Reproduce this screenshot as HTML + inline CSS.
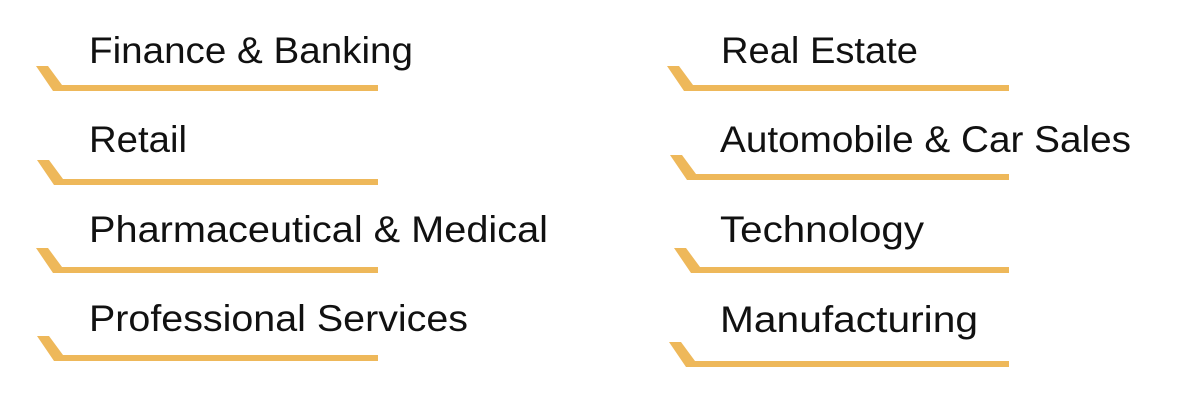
<!DOCTYPE html>
<html><head><meta charset="utf-8"><style>html,body{margin:0;padding:0;background:#fff;width:1200px;height:400px;overflow:hidden}</style></head>
<body>
<svg width="1200" height="400" viewBox="0 0 1200 400" xmlns="http://www.w3.org/2000/svg">
<g fill="#EEB85A">
<polygon points="36,66 48,66 62,85 378,85 378,91 53,91"/>
<polygon points="37,160 49,160 63,179 378,179 378,185 54,185"/>
<polygon points="36,248 48,248 62,267 378,267 378,273 53,273"/>
<polygon points="37,336 49,336 63,355 378,355 378,361 54,361"/>
<polygon points="667,66 679,66 693,85 1009,85 1009,91 684,91"/>
<polygon points="670,155 682,155 696,174 1009,174 1009,180 687,180"/>
<polygon points="674,248 686,248 700,267 1009,267 1009,273 691,273"/>
<polygon points="669,342 681,342 695,361 1009,361 1009,367 686,367"/>
</g>
<g font-family="Liberation Sans, sans-serif" font-size="37" fill="#111">
<text x="89" y="63" textLength="324" lengthAdjust="spacingAndGlyphs">Finance &amp; Banking</text>
<text x="89" y="152" textLength="98" lengthAdjust="spacingAndGlyphs">Retail</text>
<text x="89" y="242" textLength="459" lengthAdjust="spacingAndGlyphs">Pharmaceutical &amp; Medical</text>
<text x="89" y="331" textLength="379" lengthAdjust="spacingAndGlyphs">Professional Services</text>
<text x="721" y="63" textLength="197" lengthAdjust="spacingAndGlyphs">Real Estate</text>
<text x="720" y="152" textLength="411" lengthAdjust="spacingAndGlyphs">Automobile &amp; Car Sales</text>
<text x="720" y="242" textLength="204" lengthAdjust="spacingAndGlyphs">Technology</text>
<text x="720" y="332" textLength="258" lengthAdjust="spacingAndGlyphs">Manufacturing</text>
</g>
</svg>
</body></html>
